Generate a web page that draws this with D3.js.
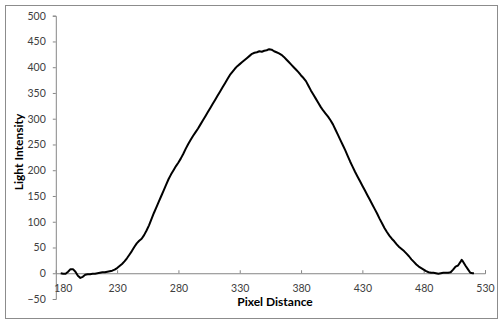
<!DOCTYPE html>
<html><head><meta charset="utf-8">
<script src="https://cdn.jsdelivr.net/npm/d3@7"></script>
<style>body{margin:0;background:#fff}svg{display:block}</style>
</head><body>
<script>
const xTicks = [180, 230, 280, 330, 380, 430, 480, 530];
const yTicks = [-50, 0, 50, 100, 150, 200, 250, 300, 350, 400, 450, 500];
const xTitle = "Pixel Distance";
const yTitle = "Light Intensity";
const pixelDistance = [184,186,188,190,192,194,196,198,200,202,204,206,208,210,212,214,216,218,220,222,224,226,228,230,232,234,236,238,240,242,244,246,248,250,252,254,256,258,260,262,264,266,268,270,272,274,276,278,280,282,284,286,288,290,292,294,296,298,300,302,304,306,308,310,312,314,316,318,320,322,324,326,328,330,332,334,336,338,340,342,344,346,348,350,352,354,356,358,360,362,364,366,368,370,372,374,376,378,380,382,384,386,388,390,392,394,396,398,400,402,404,406,408,410,412,414,416,418,420,422,424,426,428,430,432,434,436,438,440,442,444,446,448,450,452,454,456,458,460,462,464,466,468,470,472,474,476,478,480,482,484,486,488,490,492,494,496,498,500,502,504,506,508,510,511,512,514,516,518,520,521];
const lightIntensity = [0,-1,-1,3,8,8,3,-5,-9,-7,-3,-2,-2,-1,-1,0,1,2,2,3,4,5,7,10,14,18,23,29,36,43,51,58,63,67,74,83,93,105,117,128,139,150,161,172,183,192,200,208,215,223,232,242,251,259,267,274,281,289,297,305,313,321,329,337,345,353,361,369,377,385,391,397,402,406,410,414,418,422,426,428,429,431,430,432,433,435,434,431,429,427,424,420,415,410,405,400,395,390,384,379,373,364,355,347,339,331,323,316,310,304,297,289,279,269,259,249,239,228,217,207,197,188,179,170,161,152,143,134,125,116,106,97,88,80,73,67,62,56,51,47,43,38,33,27,22,17,13,10,7,4,2,1,1,0,-1,0,1,1,1,2,7,13,15,22,26,23,15,8,1,0,0];

const W = 501, H = 321;
const svg = d3.select("body").append("svg").attr("width", W).attr("height", H);
svg.append("rect").attr("x", 5.5).attr("y", 5.5).attr("width", 492).attr("height", 313)
  .attr("fill", "#fff").attr("stroke", "#8c8c8c").attr("stroke-width", 1);

const x = d3.scaleLinear().domain([180, 530]).range([55.8, 485]);
const y = d3.scaleLinear().domain([-50, 500]).range([299, 15.7]);
const axisColor = "#868686";
const font = "Lato, 'Open Sans', sans-serif";

// Y axis
const gy = svg.append("g").attr("transform", `translate(${x(180)},0)`)
  .call(d3.axisLeft(y).tickValues(yTicks).tickSize(3).tickPadding(7).tickFormat(d3.format("d")));
gy.select(".domain").attr("stroke", axisColor);
gy.selectAll(".tick line").attr("stroke", axisColor);
gy.selectAll("text").attr("fill", "#404040").style("font-family", font).style("font-size", "10.5px");

// X axis at y=0
const gx = svg.append("g").attr("transform", `translate(0,${y(0)})`)
  .call(d3.axisTop(x).tickValues(xTicks).tickSize(3).tickFormat(d3.format("d")));
gx.select(".domain").attr("stroke", axisColor);
gx.selectAll(".tick line").attr("stroke", axisColor);
gx.selectAll("text").attr("fill", "#404040").style("font-family", font).style("font-size", "10.5px")
  .attr("y", 19).attr("dy", "0")
  .attr("x", d => d === 180 ? 7 : 0);

// line
const line = d3.line().x((d, i) => x(pixelDistance[i])).y(d => y(d));
svg.append("path").datum(lightIntensity).attr("d", line)
  .attr("fill", "none").attr("stroke", "#000").attr("stroke-width", 2).attr("stroke-linejoin", "round");

// titles
svg.append("text").attr("x", 275).attr("y", 306).attr("text-anchor", "middle")
  .style("font-family", font).style("font-weight", "bold").style("font-size", "12px").attr("fill", "#000").text(xTitle);
svg.append("text").attr("transform", `translate(23,152) rotate(-90)`).attr("text-anchor", "middle")
  .style("font-family", font).style("font-weight", "bold").style("font-size", "12px").attr("fill", "#000").text(yTitle);
</script>
</body></html>
